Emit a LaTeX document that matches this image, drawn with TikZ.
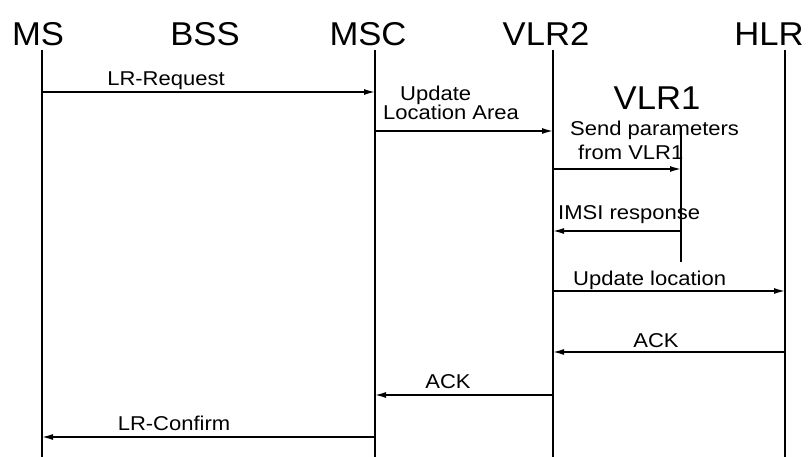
\documentclass[tikz,border=0pt]{standalone}
\usepackage{fontspec}
\setmainfont{Liberation Sans}
\newfontfamily\headfont[FakeStretch=1.05]{Liberation Sans}
\newfontfamily\lblfont[FakeStretch=1.1]{Liberation Sans}
\usetikzlibrary{arrows.meta}
\begin{document}
\begin{tikzpicture}[x=1pt,y=-1pt,
  life/.style={line width=2.6pt},
  msg/.style={line width=1.4pt,-{Latex[length=11pt,width=6pt]}},
  head/.style={font=\headfont\fontsize{33}{38}\selectfont, anchor=base, inner sep=0pt},
  lbl/.style={font=\lblfont\fontsize{20}{24}\selectfont, anchor=base, inner sep=0pt},
  lbll/.style={lbl, anchor=base west}]
\useasboundingbox (0,0) rectangle (811,457);
% headers
\node[head] (hMS)   at (38,46)  {MS};
\node[head] (hBSS)  at (205,46) {BSS};
\node[head] (hMSC)  at (368,46) {MSC};
\node[head] (hVLR2) at (546,46) {VLR2};
\node[head] (hHLR)  at (769,46) {HLR};
\node[head] (hVLR1) at (657,110) {VLR1};
% lifeline ends
\coordinate (msT) at (42,50);   \coordinate (msB) at (42,457);
\coordinate (mscT) at (375,50); \coordinate (mscB) at (375,457);
\coordinate (v2T) at (553,50);  \coordinate (v2B) at (553,457);
\coordinate (hlrT) at (785,50); \coordinate (hlrB) at (785,457);
\coordinate (v1T) at (681,128); \coordinate (v1B) at (681,262);
% labels
\node[lbl]  (l1) at (166,86) {LR-Request};
\node[lbll] (l2a) at (400,101) {Update};
\node[lbll] (l2b) at (383,120) {Location Area};
\node[lbll] (l3a) at (570,136) {Send parameters};
\node[lbll] (l3b) at (578,160) {from VLR1};
\node[lbll] (l4) at (558,220) {IMSI response};
\node[lbll] (l5) at (573,285) {Update location};
\node[lbl]  (l6) at (656,347) {ACK};
\node[lbl]  (l7) at (448,388) {ACK};
\node[lbl]  (l8) at (174,430) {LR-Confirm};
% lifelines
\draw[life] (msT) -- (msB);
\draw[life] (mscT) -- (mscB);
\draw[life] (v2T) -- (v2B);
\draw[life] (hlrT) -- (hlrB);
\draw[life] (v1T) -- (v1B);
% message end points
\coordinate (a1s) at (42,92);   \coordinate (a1e) at (375,92);
\coordinate (a2s) at (375,131); \coordinate (a2e) at (553,131);
\coordinate (a3s) at (553,169); \coordinate (a3e) at (681,169);
\coordinate (a4s) at (681,231); \coordinate (a4e) at (553,231);
\coordinate (a5s) at (553,291); \coordinate (a5e) at (785,291);
\coordinate (a6s) at (785,352); \coordinate (a6e) at (553,352);
\coordinate (a7s) at (553,395); \coordinate (a7e) at (375,395);
\coordinate (a8s) at (375,437); \coordinate (a8e) at (42,437);
\draw[msg] (a1s) -- (a1e);
\draw[msg] (a2s) -- (a2e);
\draw[msg] (a3s) -- (a3e);
\draw[msg] (a4s) -- (a4e);
\draw[msg] (a5s) -- (a5e);
\draw[msg] (a6s) -- (a6e);
\draw[msg] (a7s) -- (a7e);
\draw[msg] (a8s) -- (a8e);
\end{tikzpicture}
\end{document}
